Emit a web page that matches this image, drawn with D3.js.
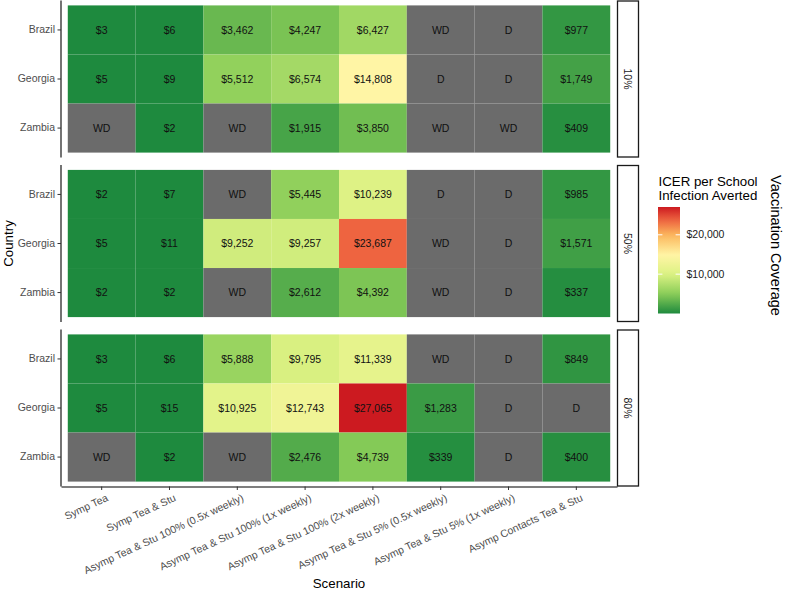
<!DOCTYPE html>
<html>
<head>
<meta charset="utf-8">
<script src="https://cdn.jsdelivr.net/npm/d3@7"></script>
<style>
    body { margin: 0; background: #fff; }
    svg text { font-family: "Liberation Sans", Arial, Helvetica, sans-serif; }
</style>
</head>
<body>
<div id="chart"></div>
<script>
// categories
const scenarios = [
    "Symp Tea",
    "Symp Tea & Stu",
    "Asymp Tea & Stu 100% (0.5x weekly)",
    "Asymp Tea & Stu 100% (1x weekly)",
    "Asymp Tea & Stu 100% (2x weekly)",
    "Asymp Tea & Stu 5% (0.5x weekly)",
    "Asymp Tea & Stu 5% (1x weekly)",
    "Asymp Contacts Tea & Stu"
];
const countries = ["Brazil", "Georgia", "Zambia"];
const coverages = ["10%", "50%", "80%"];

// ICER values, one row per country; "WD" / "D" = weakly dominated / dominated
const icer10 = [
    [3, 6, 3462, 4247, 6427, "WD", "D", 977],
    [5, 9, 5512, 6574, 14808, "D", "D", 1749],
    ["WD", 2, "WD", 1915, 3850, "WD", "WD", 409]
];
const icer50 = [
    [2, 7, "WD", 5445, 10239, "D", "D", 985],
    [5, 11, 9252, 9257, 23687, "WD", "D", 1571],
    [2, 2, "WD", 2612, 4392, "WD", "D", 337]
];
const icer80 = [
    [3, 6, 5888, 9795, 11339, "WD", "D", 849],
    [5, 15, 10925, 12743, 27065, 1283, "D", "D"],
    ["WD", 2, "WD", 2476, 4739, 339, "D", 400]
];
const legendTicks = [10000, 20000];

const W = 790, H = 607;
const panelLeft = 61, panelRight = 617;
const panelH = 157;
const panelTops = [0.5, 165, 329.5];
const stripW = 21;

const svg = d3.select("#chart").append("svg")
    .attr("width", W).attr("height", H);

const x = d3.scaleBand().domain(scenarios)
    .range([panelLeft, panelRight])
    .paddingInner(0).paddingOuter(0.1);

const allVals = [icer10, icer50, icer80].flat(2).filter(v => typeof v === "number");
const vmin = d3.min(allVals), vmax = d3.max(allVals);

const color = d3.scaleLinear()
    .domain([vmin, 5000, 10000, 14800, 20000, 23700, vmax])
    .range(["#1e8a3e", "#8acd58", "#dcf283", "#fff5a5", "#fbb65c", "#ee6440", "#cc1a20"])
    .interpolate(d3.interpolateRgb)
    .clamp(true);
const naColor = "#6b6b6b";

const fmt = d3.format("$,");

/**
 * Draw one facet panel (tiles, labels, left axis and strip).
 */
function drawPanel(rows, cov, top, isLast) {
    const g = svg.append("g");
    const y = d3.scaleBand().domain(countries)
        .range([top, top + panelH])
        .paddingInner(0).paddingOuter(0.1);

    const cells = [];
    rows.forEach((r, i) => r.forEach((v, j) => {
        cells.push({country: countries[i], scenario: scenarios[j], value: v});
    }));

    g.selectAll("rect.tile").data(cells).join("rect")
        .attr("class", "tile")
        .attr("x", d => x(d.scenario))
        .attr("y", d => y(d.country))
        .attr("width", x.bandwidth())
        .attr("height", y.bandwidth())
        .attr("fill", d => typeof d.value === "number" ? color(d.value) : naColor);

    g.selectAll("text.lab").data(cells).join("text")
        .attr("class", "lab")
        .attr("x", d => x(d.scenario) + x.bandwidth() / 2)
        .attr("y", d => y(d.country) + y.bandwidth() / 2)
        .attr("dy", "0.35em")
        .attr("text-anchor", "middle")
        .attr("font-size", 10.5)
        .attr("fill", "#111")
        .text(d => typeof d.value === "number" ? fmt(d.value) : d.value);

    // y axis
    const yAxis = g.append("g")
        .attr("transform", "translate(" + panelLeft + ",0)")
        .call(d3.axisLeft(y).tickSize(3.5).tickPadding(2.5).tickSizeOuter(0));
    yAxis.select(".domain").attr("stroke", "#000").attr("stroke-width", 1.1)
        .attr("d", "M0," + top + "V" + (top + panelH));
    yAxis.selectAll(".tick line").attr("stroke", "#333");
    yAxis.selectAll(".tick text").attr("fill", "#4d4d4d")
        .attr("font-size", 10.5).attr("font-family", null);

    // strip on the right
    g.append("rect")
        .attr("x", panelRight + 0.5).attr("y", top + 0.5)
        .attr("width", stripW).attr("height", panelH - 1)
        .attr("fill", "#fff").attr("stroke", "#1a1a1a").attr("stroke-width", 1.3);
    g.append("text")
        .attr("transform", "translate(" + (panelRight + 0.5 + stripW / 2) + "," + (top + panelH / 2) + ") rotate(90)")
        .attr("text-anchor", "middle")
        .attr("dy", "0.35em")
        .attr("font-size", 10.5)
        .attr("fill", "#1a1a1a")
        .text(cov);

    if (isLast) {
        const xAxis = g.append("g")
            .attr("transform", "translate(0," + (top + panelH) + ")")
            .call(d3.axisBottom(x).tickSize(3.5).tickSizeOuter(0));
        xAxis.select(".domain").attr("stroke", "#000").attr("stroke-width", 1.1);
        xAxis.selectAll(".tick line").attr("stroke", "#333");
        xAxis.selectAll(".tick text")
            .attr("fill", "#4d4d4d")
            .attr("font-size", 10.5).attr("font-family", null)
            .attr("text-anchor", "end")
            .attr("x", 0).attr("y", 0)
            .attr("dy", "0.71em")
            .attr("transform", "translate(4,7) rotate(-25)");
    }
}

drawPanel(icer10, coverages[0], panelTops[0], false);
drawPanel(icer50, coverages[1], panelTops[1], false);
drawPanel(icer80, coverages[2], panelTops[2], true);

// axis titles
const midY = (panelTops[0] + panelTops[2] + panelH) / 2;
svg.append("text")
    .attr("transform", "translate(12.5," + midY + ") rotate(-90)")
    .attr("text-anchor", "middle")
    .attr("font-size", 13.3)
    .text("Country");

svg.append("text")
    .attr("x", (panelLeft + panelRight) / 2).attr("y", 588)
    .attr("text-anchor", "middle")
    .attr("font-size", 13.3)
    .text("Scenario");

svg.append("text")
    .attr("transform", "translate(776," + (midY + 2) + ") rotate(90)")
    .attr("text-anchor", "middle")
    .attr("dy", "0.35em")
    .attr("font-size", 14.5)
    .text("Vaccination Coverage");

// legend
const leg = svg.append("g");
leg.append("text").attr("x", 658.5).attr("y", 185.5)
    .attr("font-size", 13.3).text("ICER per School");
leg.append("text").attr("x", 658.5).attr("y", 199.5)
    .attr("font-size", 13.3).text("Infection Averted");

const barX = 658, barW = 22;
const ly = d3.scaleLinear().domain([vmin, vmax]).range([313.5, 207]);

const grad = svg.append("defs").append("linearGradient")
    .attr("id", "icerGrad")
    .attr("x1", 0).attr("y1", 1).attr("x2", 0).attr("y2", 0);
d3.range(0, 1.0001, 0.05).forEach(t => {
    grad.append("stop")
        .attr("offset", t)
        .attr("stop-color", color(vmin + t * (vmax - vmin)));
});
leg.append("rect")
    .attr("x", barX).attr("y", ly(vmax))
    .attr("width", barW).attr("height", ly(vmin) - ly(vmax))
    .attr("fill", "url(#icerGrad)");

leg.selectAll("line.tl").data(legendTicks).join("line")
    .attr("x1", barX).attr("x2", barX + 4.4)
    .attr("y1", d => ly(d)).attr("y2", d => ly(d))
    .attr("stroke", "#fff").attr("stroke-width", 1);
leg.selectAll("line.tr").data(legendTicks).join("line")
    .attr("x1", barX + barW - 4.4).attr("x2", barX + barW)
    .attr("y1", d => ly(d)).attr("y2", d => ly(d))
    .attr("stroke", "#fff").attr("stroke-width", 1);
leg.selectAll("text.tk").data(legendTicks).join("text")
    .attr("x", barX + barW + 6.5)
    .attr("y", d => ly(d))
    .attr("dy", "0.35em")
    .attr("font-size", 10.5)
    .attr("fill", "#1a1a1a")
    .text(d => fmt(d));
</script>
</body>
</html>
